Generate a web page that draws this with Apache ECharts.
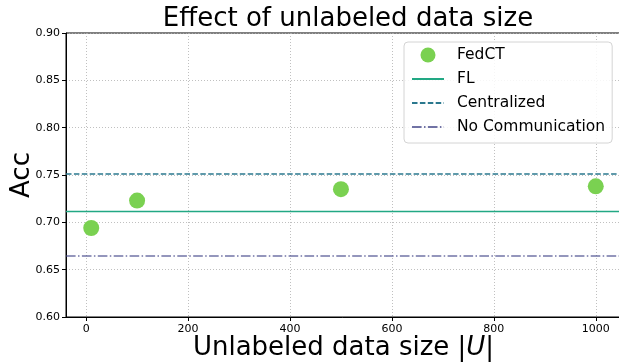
<!DOCTYPE html>
<html>
<head>
<meta charset="utf-8">
<script src="https://cdn.jsdelivr.net/npm/echarts@6/dist/echarts.min.js"></script>
<style>
  html, body { margin: 0; padding: 0; background: #fff; }
  #chart { width: 619px; height: 362px; }
</style>
</head>
<body>
<div id="chart"></div>
<script>
// data
var sizes = [10, 100, 500, 1000];
var fedctAcc = [0.694, 0.723, 0.735, 0.738];
var flAcc = 0.7115;
var centralizedAcc = 0.751;
var noCommAcc = 0.6645;
var xTicks = [0, 200, 400, 600, 800, 1000];
var xMin = -39.5, xMax = 1049.5;

var font = 'DejaVu Sans';

function hline(v) {
  return [[xMin, v], [xMax, v]];
}

var chart = echarts.init(document.getElementById('chart'));

var noSymbol = { opacity: 0 };

var option = {
  animation: false,
  backgroundColor: '#fff',
  title: {
    text: 'Effect of unlabeled data size',
    left: 343,
    textAlign: 'center',
    top: 1,
    textStyle: { fontFamily: font, fontSize: 26, fontWeight: 'normal', color: '#000' }
  },
  legend: {
    orient: 'vertical',
    left: 404,
    top: 42,
    padding: [5, 7, 8, 7],
    itemGap: 8,
    itemWidth: 32,
    itemHeight: 15,
    backgroundColor: 'rgba(255,255,255,0.85)',
    borderColor: '#d4d4d4',
    borderWidth: 1,
    borderRadius: 4,
    textStyle: { fontFamily: font, fontSize: 15.5, color: '#000', padding: [0, 0, 0, 8], lineHeight: 15 },
    data: [
      { name: 'FedCT', icon: 'circle' },
      { name: 'FL', itemStyle: noSymbol },
      { name: 'Centralized', itemStyle: noSymbol },
      { name: 'No Communication', itemStyle: noSymbol }
    ]
  },
  grid: {
    left: 66,
    top: 33,
    width: 555,
    height: 284,
    containLabel: false,
    outerBoundsMode: 'none',
    show: true,
    borderColor: '#000',
    borderWidth: 1
  },
  xAxis: {
    type: 'value',
    min: xMin,
    max: xMax,
    name: '{t|Unlabeled data size |}{i|U}{t||}',
    nameLocation: 'middle',
    nameMoveOverlap: false,
    nameGap: 18,
    nameTextStyle: {
      fontFamily: font, fontSize: 26, color: '#000',
      rich: {
        t: { fontFamily: font, fontSize: 26, color: '#000' },
        i: { fontFamily: font, fontSize: 26, color: '#000', fontStyle: 'italic' }
      }
    },
    axisLine: { onZero: false, lineStyle: { color: '#000', width: 1 } },
    axisTick: { show: true, length: 4, customValues: xTicks, lineStyle: { color: '#000' } },
    axisLabel: {
      customValues: xTicks, fontFamily: font, fontSize: 11, color: '#000', margin: 7,
      formatter: function (v) { return String(v); }
    },
    splitLine: { show: true, lineStyle: { color: '#b0b0b0', width: 0.8, type: [1, 2] } }
  },
  yAxis: {
    type: 'value',
    min: 0.6,
    max: 0.9,
    interval: 0.05,
    name: 'Acc',
    nameLocation: 'middle',
    nameMoveOverlap: false,
    nameGap: 31,
    nameTextStyle: { fontFamily: font, fontSize: 26, color: '#000' },
    axisLine: { show: true, onZero: false, lineStyle: { color: '#000', width: 1 } },
    axisTick: { show: true, length: 4, lineStyle: { color: '#000' } },
    axisLabel: {
      fontFamily: font, fontSize: 11, color: '#000', margin: 6,
      formatter: function (v) { return v.toFixed(2); }
    },
    splitLine: { show: true, lineStyle: { color: '#b0b0b0', width: 0.8, type: [1, 2] } }
  },
  series: [
    {
      name: 'FedCT',
      type: 'scatter',
      symbolSize: 16,
      itemStyle: { color: '#7ad151', opacity: 1 },
      data: sizes.map(function (s, i) { return [s, fedctAcc[i]]; }),
      z: 5
    },
    {
      name: 'FL',
      type: 'line',
      symbol: 'none',
      lineStyle: { color: '#22a884', width: 1.5 },
      itemStyle: { color: '#22a884' },
      data: hline(flAcc)
    },
    {
      name: 'Centralized',
      type: 'line',
      symbol: 'none',
      lineStyle: { color: '#2a788e', width: 1.5, type: [5.5, 2.4] },
      itemStyle: { color: '#2a788e' },
      data: hline(centralizedAcc)
    },
    {
      name: 'No Communication',
      type: 'line',
      symbol: 'none',
      lineStyle: { color: '#414487', width: 1.5, opacity: 0.75, type: [9.6, 2.4, 1.5, 2.4] },
      itemStyle: { color: '#6f72a6' },
      data: hline(noCommAcc)
    }
  ]
};

chart.setOption(option);
</script>
</body>
</html>
